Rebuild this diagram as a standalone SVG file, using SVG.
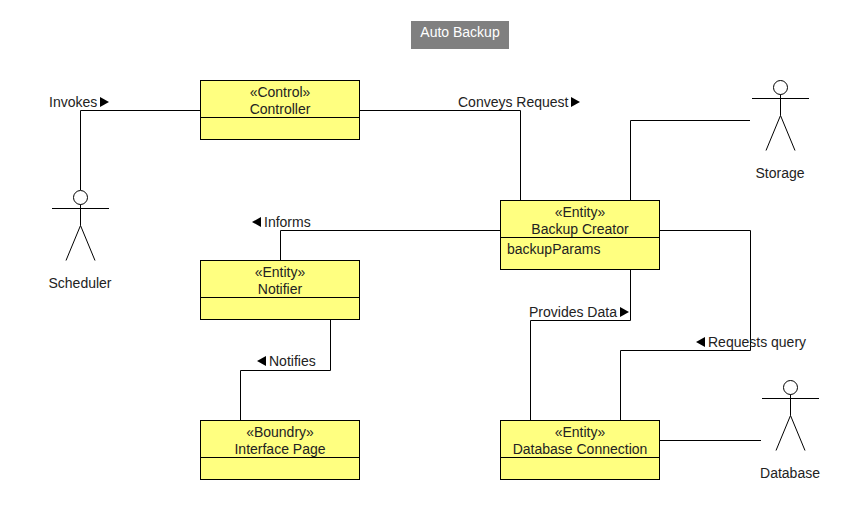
<svg xmlns="http://www.w3.org/2000/svg" width="860" height="520" viewBox="0 0 860 520">
<style>
text{font-family:"Liberation Sans",Arial,sans-serif;font-size:14px;fill:#222}
.c{text-anchor:middle}
.box{fill:#ffff80;stroke:#000;stroke-width:1}
.ln{fill:none;stroke:#000;stroke-width:1}
.act{fill:#fff;stroke:#000;stroke-width:1}
.arr{fill:#000;stroke:none}
</style>
<defs>
<g id="actor">
<circle class="act" cx="0" cy="0" r="7"/>
<path class="ln" d="M-28.500 11H28.500M0 7V28M-14.500 63L0 28L14.500 63"/>
</g>
</defs>
<rect x="411" y="21" width="98" height="28" fill="#808080"/>
<text class="c" x="460" y="37" style="fill:#fff">Auto Backup</text>
<g id="connectors">
<path class="ln" d="M200.500 110.500H80.500V190"/>
<path class="ln" d="M359.500 110.500H520.500V200.500"/>
<path class="ln" d="M630.500 200.500V120.500H750"/>
<path class="ln" d="M500.500 230.500H280.500V260.500"/>
<path class="ln" d="M330.500 319.500V370.500H240.500V420.500"/>
<path class="ln" d="M630.500 269.500V320.500H530.500V420.500"/>
<path class="ln" d="M659.500 230.500H750.500V350.500H620.500V420.500"/>
<path class="ln" d="M659.500 440.500H761"/>
<path class="arr" d="M100 97L109 102L100 107Z"/>
<path class="arr" d="M571 97L580 102L571 107Z"/>
<path class="arr" d="M261 217L252 222L261 227Z"/>
<path class="arr" d="M266 356L257 361L266 366Z"/>
<path class="arr" d="M620 307L629 312L620 317Z"/>
<path class="arr" d="M705 337L696 342L705 347Z"/>
<text x="49" y="107">Invokes</text>
<text x="458" y="107">Conveys Request</text>
<text x="264" y="227">Informs</text>
<text x="269" y="366">Notifies</text>
<text x="529" y="317">Provides Data</text>
<text x="708" y="347">Requests query</text>
</g>
<g id="controller">
<rect class="box" x="200.500" y="80.500" width="159" height="59"/>
<path class="ln" d="M200.500 117.500H359.500"/>
<text class="c" x="280" y="97">«Control»</text>
<text class="c" x="280" y="114">Controller</text>
</g>
<g id="backup-creator">
<rect class="box" x="500.500" y="200.500" width="159" height="69"/>
<path class="ln" d="M500.500 237.500H659.500"/>
<text class="c" x="580" y="217">«Entity»</text>
<text class="c" x="580" y="234">Backup Creator</text>
<text x="507" y="254">backupParams</text>
</g>
<g id="notifier">
<rect class="box" x="200.500" y="260.500" width="159" height="59"/>
<path class="ln" d="M200.500 297.500H359.500"/>
<text class="c" x="280" y="277">«Entity»</text>
<text class="c" x="280" y="294">Notifier</text>
</g>
<g id="interface-page">
<rect class="box" x="200.500" y="420.500" width="159" height="59"/>
<path class="ln" d="M200.500 457.500H359.500"/>
<text class="c" x="280" y="437">«Boundry»</text>
<text class="c" x="280" y="454">Interface Page</text>
</g>
<g id="database-connection">
<rect class="box" x="500.500" y="420.500" width="159" height="59"/>
<path class="ln" d="M500.500 457.500H659.500"/>
<text class="c" x="580" y="437">«Entity»</text>
<text class="c" x="580" y="454">Database Connection</text>
</g>
<g id="scheduler">
<use href="#actor" x="80.500" y="197.500"/>
<text class="c" x="80" y="288">Scheduler</text>
</g>
<g id="storage">
<use href="#actor" x="780.500" y="87.500"/>
<text class="c" x="780" y="178">Storage</text>
</g>
<g id="database">
<use href="#actor" x="790.500" y="387.500"/>
<text class="c" x="790" y="478">Database</text>
</g>
</svg>
